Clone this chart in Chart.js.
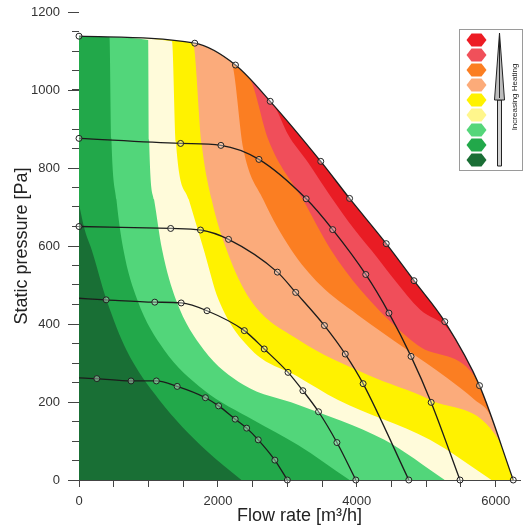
<!DOCTYPE html>
<html>
<head>
<meta charset="utf-8">
<script src="https://cdn.jsdelivr.net/npm/chart.js@4.4.1/dist/chart.umd.min.js"></script>
<style>
  html, body { margin: 0; padding: 0; background: #fff; }
</style>
</head>
<body>
<canvas id="fanChart" width="525" height="527"></canvas>
<script>
var FONT = "'Liberation Sans', Arial, sans-serif";

// axis ticks (every mark), labels only on some of them
var flowTicks = [0,500,1000,1500,2000,2500,3000,3500,4000,4500,5000,5500,6000];
var flowLabels = [0,2000,4000,6000];
var pressTicks = [0,50,100,150,200,250,300,350,400,450,500,550,600,650,700,750,800,850,900,950,1000,1050,1100,1150,1200];
var pressLabels = [0,200,400,600,800,1000,1200];

// fan curves: [flow m3/h, static pressure Pa], one per speed step
var curve1 = [[0,1138],[1667,1120],[2253,1064],[2753,971],[3481,817],[3896,722],[4424,606],[4824,511],[5267,406],[5767,242],[6253,0]];
var curve2 = [[0,876],[1463,863],[2043,858],[2591,822],[3271,721],[3653,642],[4129,527],[4463,428],[4781,317],[5071,199],[5486,0]];
var curve3 = [[0,650],[1320,645],[1749,641],[2153,617],[2857,533],[3120,481],[3534,396],[3834,323],[4091,247],[4749,0]];
var curve4 = [[0,466],[391,462],[1091,456],[1471,454],[1843,434],[2381,383],[2667,336],[3010,276],[3224,229],[3449,175],[3714,96],[3986,0]];
var curve5 = [[0,262],[257,260],[749,254],[1114,254],[1414,240],[1820,211],[2010,190],[2249,156],[2414,133],[2581,103],[2820,51],[3000,0]];

// heating zone edges (inner colour | outer colour)
var edgeDkGreen = [[0,707],[81,642],[181,591],[396,462],[681,334],[1153,206],[1824,77],[2339,0]];
var edgeGreen   = [[439,1135],[467,874],[539,719],[639,591],[839,462],[1224,334],[1796,231],[2510,154],[3153,90],[3896,0]];
var edgeLtGreen = [[996,1128],[1010,871],[1081,719],[1196,591],[1396,462],[1796,334],[2367,244],[3153,193],[4396,103],[5267,0]];
var edgePale    = [[1339,1125],[1396,866],[1581,719],[1796,591],[2010,462],[2481,334],[3153,265],[3724,206],[5053,103],[5939,0]];
var edgeYellow  = [[1639,1121],[1767,861],[1910,719],[2124,591],[2467,462],[3153,360],[4153,270],[5053,206],[6053,100]];
var edgePeach   = [[2196,1071],[2367,848],[2653,719],[3053,591],[3467,501],[4010,424],[4724,334],[5296,262],[5696,206],[5910,170]];
var edgeOrange  = [[2481,1022],[2724,874],[3224,719],[3624,591],[4053,488],[4867,347],[5740,255]];
var edgePink    = [[2824,956],[3010,886],[3296,815],[3624,727],[3967,642],[4296,570],[4539,514],[4910,437],[5324,385]];

var zoneColors   = ['#e91c24','#f04e5a','#fb7e22','#fbab7b','#fff200','#fffbda','#52d67a','#22a84a','#196f35'];
var legendColors = ['#ed1c24','#f0505a','#fb7e22','#fcab79','#fff200','#fff68c','#55d67a','#22a84a','#1a6e35'];

function toPts(arr) {
  return arr.map(function(p){ return {x: p[0], y: p[1]}; });
}

// zone = area under the max curve cut down by one edge
function zoneData(edge) {
  var pts = curve1.filter(function(p){ return p[0] < edge[0][0]; }).concat(edge);
  var last = edge[edge.length - 1];
  if (last[1] > 0) {
    pts = pts.concat(curve1.filter(function(p){ return p[0] > last[0]; }));
  }
  return toPts(pts);
}

var datasets = [];
var edges = [null, edgePink, edgeOrange, edgePeach, edgeYellow, edgePale, edgeLtGreen, edgeGreen, edgeDkGreen];
edges.forEach(function(edge, i){
  datasets.push({
    data: edge ? zoneData(edge) : toPts(curve1),
    fill: 'origin',
    backgroundColor: zoneColors[i],
    borderColor: 'rgba(0,0,0,0)',
    borderWidth: 0,
    pointRadius: 0,
    cubicInterpolationMode: 'monotone',
    order: 30 - i
  });
});

// white above the max curve
datasets.push({
  data: toPts(curve1),
  fill: 'end',
  backgroundColor: '#ffffff',
  borderColor: 'rgba(0,0,0,0)',
  borderWidth: 0,
  pointRadius: 0,
  cubicInterpolationMode: 'monotone',
  order: 10
});

[curve1, curve2, curve3, curve4, curve5].forEach(function(c, i){
  var startMark = i < 3;
  datasets.push({
    data: toPts(c),
    fill: false,
    borderColor: '#1c1c1c',
    borderWidth: 1.3,
    cubicInterpolationMode: 'monotone',
    pointRadius: function(ctx){ return (ctx.dataIndex === 0 && !startMark) ? 0 : 3; },
    pointBackgroundColor: 'rgba(255,255,255,0.35)',
    pointBorderColor: '#222',
    pointBorderWidth: 1,
    clip: false,
    order: 0
  });
});

var heatLegend = {
  id: 'heatLegend',
  afterDraw: function(chart) {
    var ctx = chart.ctx;
    var ys = chart.scales.y;
    ctx.save();
    // longer marks for the labelled pressure ticks
    ctx.strokeStyle = '#444';
    ctx.lineWidth = 1;
    pressLabels.forEach(function(v){
      var py = Math.round(ys.getPixelForValue(v)) + 0.5;
      ctx.beginPath();
      ctx.moveTo(ys.right - 11, py);
      ctx.lineTo(ys.right, py);
      ctx.stroke();
    });
    // legend box
    ctx.fillStyle = '#fff';
    ctx.strokeStyle = '#9a9a9a';
    ctx.fillRect(459.5, 29.5, 63, 141);
    ctx.strokeRect(459.5, 29.5, 63, 141);
    legendColors.forEach(function(c, i){
      var cx = 476.5, cy = 40 + i * 15;
      ctx.beginPath();
      ctx.moveTo(cx - 10, cy);
      ctx.lineTo(cx - 5, cy - 6.5);
      ctx.lineTo(cx + 5, cy - 6.5);
      ctx.lineTo(cx + 10, cy);
      ctx.lineTo(cx + 5, cy + 6.5);
      ctx.lineTo(cx - 5, cy + 6.5);
      ctx.closePath();
      ctx.fillStyle = c;
      ctx.fill();
    });
    // arrow
    ctx.strokeStyle = '#222';
    ctx.fillStyle = '#d4d4d4';
    ctx.beginPath();
    ctx.rect(497.5, 100, 4, 66);
    ctx.fill();
    ctx.stroke();
    ctx.fillStyle = '#bdbdbd';
    ctx.beginPath();
    ctx.moveTo(499.5, 33);
    ctx.lineTo(504.5, 100);
    ctx.lineTo(494.5, 100);
    ctx.closePath();
    ctx.fill();
    ctx.stroke();
    ctx.beginPath();
    ctx.moveTo(499.5, 36);
    ctx.lineTo(499.5, 98);
    ctx.stroke();
    // caption
    ctx.translate(514.5, 97);
    ctx.rotate(-Math.PI / 2);
    ctx.textAlign = 'center';
    ctx.textBaseline = 'middle';
    ctx.font = '8px ' + FONT;
    ctx.fillStyle = '#222';
    ctx.fillText('Increasing Heating', 0, 0);
    ctx.restore();
  }
};

new Chart('fanChart', {
  type: 'line',
  data: { datasets: datasets },
  plugins: [heatLegend],
  options: {
    responsive: false,
    animation: false,
    events: [],
    layout: { padding: { left: 0, right: 1, top: 12, bottom: 0 } },
    plugins: {
      legend: { display: false },
      tooltip: { enabled: false },
      filler: { propagate: false }
    },
    scales: {
      x: {
        type: 'linear',
        min: 0,
        max: 6350,
        z: 1,
        afterBuildTicks: function(s){ s.ticks = flowTicks.map(function(v){ return {value: v}; }); },
        afterFit: function(s){ s.height = 47; s.paddingLeft = 0; s.paddingRight = 0; },
        border: { color: '#444', width: 1 },
        grid: { drawOnChartArea: false, tickLength: 7, color: '#444' },
        ticks: {
          autoSkip: false,
          maxRotation: 0,
          padding: 7,
          color: '#333',
          font: { size: 13, family: FONT },
          callback: function(v){ return flowLabels.indexOf(v) >= 0 ? String(v) : ''; }
        },
        title: {
          display: true,
          text: 'Flow rate [m³/h]',
          color: '#222',
          font: { size: 18, family: FONT },
          padding: { top: 0, bottom: 0 }
        }
      },
      y: {
        type: 'linear',
        min: 0,
        max: 1200,
        z: 1,
        afterBuildTicks: function(s){ s.ticks = pressTicks.map(function(v){ return {value: v}; }); },
        afterFit: function(s){ s.width = 79; s.paddingTop = 0; s.paddingBottom = 0; },
        border: { color: '#444', width: 1 },
        grid: { drawOnChartArea: false, tickLength: 7, color: '#444' },
        ticks: {
          autoSkip: false,
          padding: 12,
          color: '#333',
          font: { size: 13, family: FONT },
          callback: function(v){ return pressLabels.indexOf(v) >= 0 ? String(v) : ''; }
        },
        title: {
          display: true,
          text: 'Static pressure [Pa]',
          color: '#222',
          font: { size: 18, family: FONT },
          padding: { top: 11, bottom: 0 }
        }
      }
    }
  }
});
</script>
</body>
</html>
